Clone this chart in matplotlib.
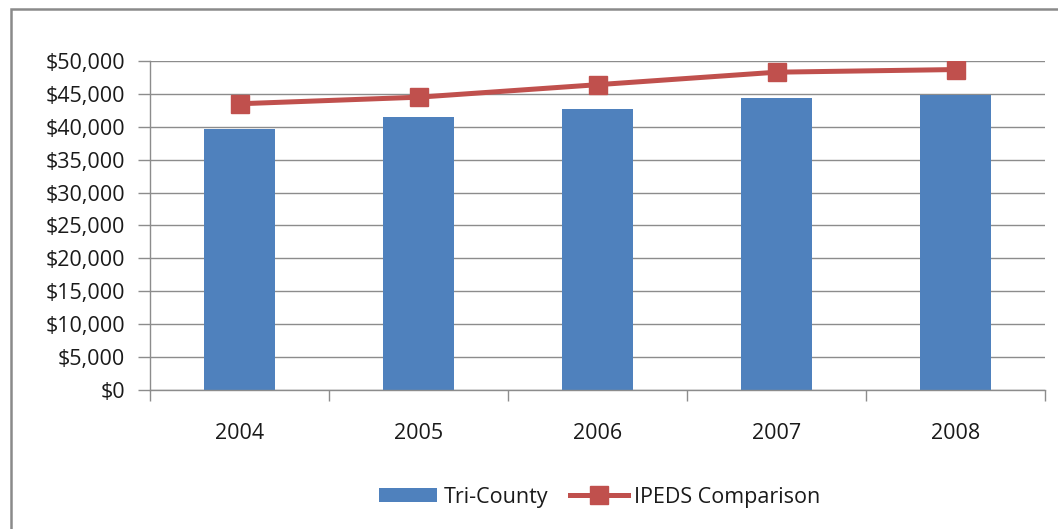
import matplotlib
matplotlib.use("Agg")
import matplotlib.pyplot as plt
from matplotlib.patches import Rectangle
from matplotlib.ticker import FuncFormatter, MultipleLocator
import numpy as np

years = ["2004", "2005", "2006", "2007", "2008"]
tri_county = [39600, 41500, 42700, 44400, 44900]
ipeds = [43500, 44500, 46400, 48300, 48700]

plt.rcParams["font.family"] = ["Open Sans", "DejaVu Sans"]

W, H = 1058, 529
fig = plt.figure(figsize=(W / 100, H / 100), dpi=100)
fig.patch.set_facecolor("white")

# outer chart frame
fig.add_artist(Rectangle((11 / W, -0.05), 1.2, 1 - 9 / H + 0.05,
                         transform=fig.transFigure, fill=False,
                         edgecolor="#8a8a8a", linewidth=1.8))

ax = fig.add_axes([150 / W, (H - 390) / H, (1045 - 150) / W, (390 - 61) / H])
x = np.arange(len(years))
bars = ax.bar(x, tri_county, width=0.40, color="#4F81BD", zorder=2, label="Tri-County")
line, = ax.plot(x, ipeds, color="#C0504D", linewidth=3.6, marker="s", markersize=13.5,
                zorder=3, label="IPEDS Comparison")

ax.set_xlim(-0.5, len(years) - 0.5)
ax.set_ylim(0, 50000)
ax.yaxis.set_major_locator(MultipleLocator(5000))
ax.yaxis.set_major_formatter(FuncFormatter(lambda v, p: f"${v:,.0f}"))
ax.grid(axis="y", color="#8c8c8c", linewidth=1.0, zorder=0)
ax.set_axisbelow(True)

ax.set_xticks(x)
ax.set_xticklabels(years)
ax.tick_params(axis="x", which="major", length=0, pad=24, labelsize=15.5, labelcolor="#1a1a1a")
ax.set_xticks(np.arange(-0.5, len(years)), minor=True)
ax.tick_params(axis="x", which="minor", length=8, width=1, color="#8c8c8c", direction="out")
ax.tick_params(axis="y", length=9, width=1, color="#8c8c8c", direction="out",
               labelsize=15.5, labelcolor="#1a1a1a", pad=9)

for side in ["top", "right"]:
    ax.spines[side].set_visible(False)
for side in ["left", "bottom"]:
    ax.spines[side].set_color("#8c8c8c")
    ax.spines[side].set_linewidth(1.0)

leg = fig.legend([bars, line], ["Tri-County", "IPEDS Comparison"], loc="center",
                 bbox_to_anchor=(600 / W, 1 - 497 / H), ncol=2,
                 frameon=False, fontsize=15.5, handlelength=2.7, handleheight=0.6,
                 columnspacing=1.0, handletextpad=0.3)
for t in leg.get_texts():
    t.set_color("#1a1a1a")

fig.savefig("out.png", dpi=100)
